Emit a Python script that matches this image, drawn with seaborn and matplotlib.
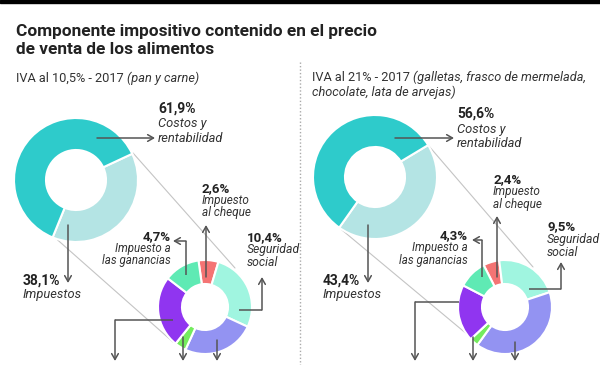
import numpy as np
import pandas as pd
import seaborn as sns
import matplotlib
matplotlib.use("Agg")
import matplotlib.pyplot as plt
from matplotlib.patches import Rectangle

sns.set_theme(style="white")
plt.rcParams['font.family'] = ['Roboto', 'DejaVu Sans']

# ---------------- data ----------------
title_lines = ["Componente impositivo contenido en el precio",
               "de venta de los alimentos"]
major_categories = ["Impuestos", "Costos y rentabilidad"]
left_major = [38.1, 61.9]
right_major = [43.4, 56.6]
tax_categories = ["Impuesto al cheque", "Seguridad social", "IVA", "Otros",
                  "Ingresos brutos", "Impuesto a las ganancias"]
left_taxes = [2.6, 10.4, 9.5, 1.5, 9.4, 4.7]
right_taxes = [2.4, 9.5, 17.4, 1.3, 8.5, 4.3]
left_pct_labels = ["61,9%", "38,1%", "2,6%", "4,7%", "10,4%"]
right_pct_labels = ["56,6%", "43,4%", "2,4%", "4,3%", "9,5%"]

major_colors = ["#B4E4E4", "#2ECBCB"]
tax_colors = sns.color_palette(["#F47474", "#A0F5E0", "#9393F2", "#74EC5E",
                                "#9035F0", "#5FEAB4"])

W, H = 600, 365
fig = plt.figure(figsize=(6, 3.65), dpi=100)
ax = fig.add_axes([0, 0, 1, 1])
ax.set_xlim(0, W)
ax.set_ylim(0, H)


def Y(y):
    return H - y


TXT = "#222222"
ARW = "#555555"

# top bar
ax.add_patch(Rectangle((0, Y(3)), W, 3, color="black", zorder=5))

# divider
ax.plot([300, 300], [Y(62), Y(365)], color="#aaaaaa", lw=1, ls=(0, (1, 1.5)))

# connectors (zoom lines)
for (x1, y1), (x2, y2) in [((133, 153), (235, 268)), ((52, 235), (173, 342)),
                           ((428, 145), (533, 267)), ((342, 230), (468, 335))]:
    ax.plot([x1, x2], [Y(y1), Y(y2)], color="#c4c4c4", lw=0.8, zorder=1)


def donut(values, colors, cx, cy, r, inner, start_cw):
    ax.pie(values, colors=colors, startangle=90 - start_cw, counterclock=False,
           radius=r, center=(cx, Y(cy)), frame=True,
           wedgeprops=dict(width=r - inner, edgecolor="white", linewidth=1.5))


donut(left_major, major_colors, 76, 180, 62, 30, 65)
donut(right_major, major_colors, 375, 177, 62, 30, 59)
donut(left_taxes, tax_colors, 205, 307, 47, 23, -8)
donut(right_taxes, tax_colors, 505, 307, 47, 23, -27)


def arrow(pts):
    xs = [p[0] for p in pts]
    ys = [Y(p[1]) for p in pts]
    if len(pts) > 2:
        ax.plot(xs[:-1], ys[:-1], color=ARW, lw=1.1, zorder=6,
                solid_capstyle="butt", solid_joinstyle="miter")
    ax.annotate("", xy=(xs[-1], ys[-1]), xytext=(xs[-2], ys[-2]),
                arrowprops=dict(arrowstyle="->,head_length=0.35,head_width=0.2",
                                color=ARW, lw=1.1, shrinkA=0, shrinkB=0),
                zorder=6)


def label(x, y, pct, lines, size_pct=10, size_txt=9.3, step=14.5, ha="left"):
    ax.text(x, Y(y), pct, fontsize=size_pct, fontweight="bold", color=TXT,
            ha=ha, va="baseline")
    for i, ln in enumerate(lines):
        ax.text(x, Y(y + step * (i + 1)), ln, fontsize=size_txt, style="italic",
                color="#333333", ha=ha, va="baseline")


# title
ax.text(16, Y(36), title_lines[0], fontsize=12.4,
        fontweight="bold", color=TXT, va="baseline")
ax.text(16, Y(54), title_lines[1], fontsize=12.4,
        fontweight="bold", color=TXT, va="baseline")

renderer = fig.canvas.get_renderer()
SUB = 9.2


def mixed(x, y, normal, italic):
    t = ax.text(x, Y(y), normal, fontsize=SUB, color="#333333", va="baseline")
    bb = t.get_window_extent(renderer)
    x2 = ax.transData.inverted().transform((bb.x1, bb.y0))[0]
    ax.text(x2, Y(y), italic, fontsize=SUB, style="italic", color="#333333",
            va="baseline")


mixed(16, 82, "IVA al 10,5% - 2017 ", "(pan y carne)")
mixed(312, 81, "IVA al 21% - 2017 ", "(galletas, frasco de mermelada,")
ax.text(312, Y(96), "chocolate, lata de arvejas)", fontsize=SUB, style="italic",
        color="#333333", va="baseline")

# ---- left labels ----
label(158, 113, left_pct_labels[0], ["Costos y", "rentabilidad"])
arrow([(97, 138), (155, 138)])
label(23, 285, left_pct_labels[1], ["Impuestos"], step=13)
arrow([(68, 225), (68, 283)])
label(202, 192, left_pct_labels[2], ["Impuesto", "al cheque"], size_pct=9.5,
      size_txt=8.5, step=12)
arrow([(206, 277), (206, 225)])
label(171, 240, left_pct_labels[3], ["Impuesto a", "las ganancias"], size_pct=9.5,
      size_txt=8.3, step=12, ha="right")
arrow([(186, 275), (186, 241), (173, 241)])
label(247, 241, left_pct_labels[4], ["Seguridad", "social"], size_pct=9.5,
      size_txt=8.8, step=12.5)
arrow([(239, 310), (262, 310), (262, 277)])
arrow([(173, 320), (115, 320), (115, 361)])
arrow([(183, 337), (183, 361)])
arrow([(217, 340), (217, 361)])

# ---- right labels ----
label(457, 118, right_pct_labels[0], ["Costos y", "rentabilidad"])
arrow([(395, 138), (454, 138)])
label(323, 285, right_pct_labels[1], ["Impuestos"], step=13)
arrow([(368, 225), (368, 283)])
label(493, 183, right_pct_labels[2], ["Impuesto", "al cheque"], size_pct=9.5,
      size_txt=8.5, step=12.5)
arrow([(497, 277), (497, 216)])
label(468, 239, right_pct_labels[3], ["Impuesto a", "las ganancias"], size_pct=9.5,
      size_txt=8.3, step=12.5, ha="right")
arrow([(482, 277), (482, 240), (472, 240)])
label(547, 230, right_pct_labels[4], ["Seguridad", "social"], size_pct=9.5,
      size_txt=8.8, step=13)
arrow([(529, 289), (561, 289), (561, 262)])
arrow([(459, 302), (415, 302), (415, 361)])
arrow([(473, 337), (473, 361)])
arrow([(515, 342), (515, 361)])

ax.set_xlim(0, W)
ax.set_ylim(0, H)
ax.axis("off")
fig.savefig("out.png", dpi=100, facecolor="white")
